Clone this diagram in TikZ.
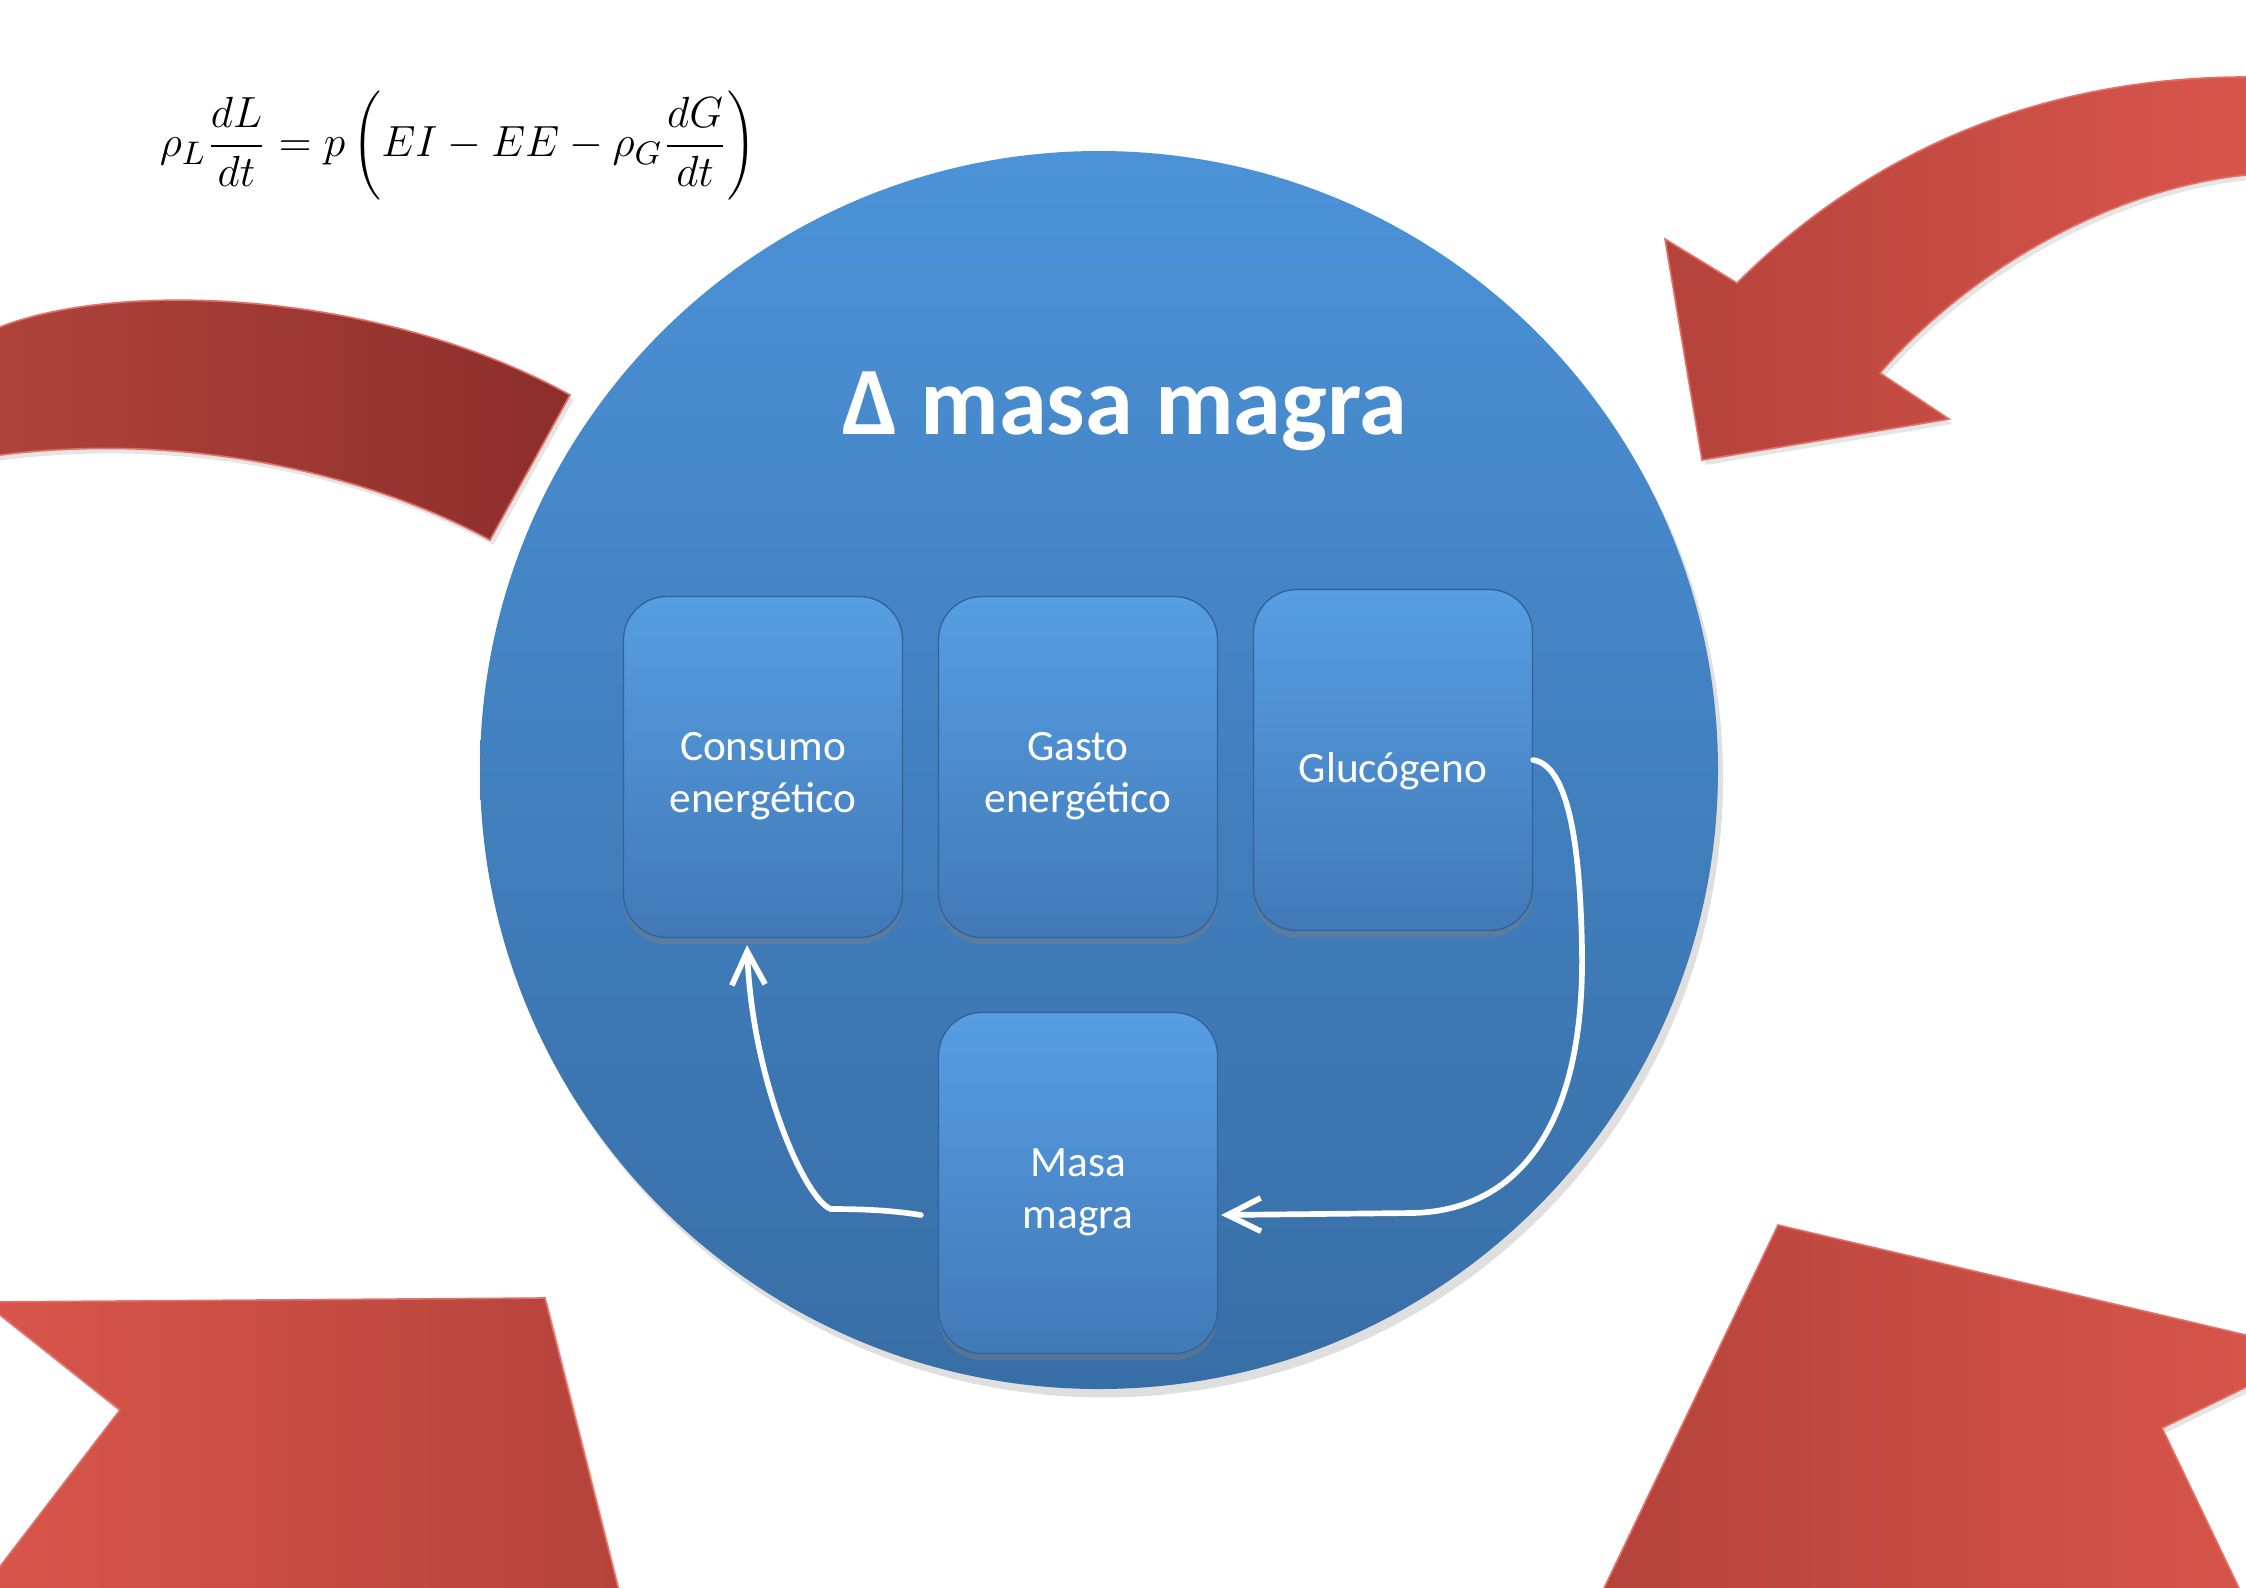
\documentclass[tikz,border=0pt]{standalone}
\usepackage{fontspec}
\setmainfont{Carlito}
\usetikzlibrary{arrows.meta,shadows}

\definecolor{discblue1}{RGB}{75,146,215}
\definecolor{discblue2}{RGB}{56,110,166}
\definecolor{boxtop}{RGB}{86,158,226}
\definecolor{boxbot}{RGB}{66,121,183}
\definecolor{boxedge}{RGB}{52,98,152}
\definecolor{redlight}{RGB}{218,86,76}
\definecolor{reddark}{RGB}{180,67,59}
\definecolor{bandlight}{RGB}{176,68,60}
\definecolor{banddark}{RGB}{141,46,42}
\definecolor{rededge}{RGB}{226,112,102}

\tikzset{
  disc/.style={top color=discblue1, bottom color=discblue2, draw=none,
    drop shadow={shadow xshift=1.5pt, shadow yshift=-2.5pt, opacity=0.25}},
  box/.style={draw=boxedge, line width=0.4pt, rounded corners=13pt,
    minimum width=83.7pt, minimum height=102.3pt, text height=29.5pt,
    top color=boxtop, bottom color=boxbot, text=white, align=center,
    font=\fontsize{13}{15.5}\selectfont,
    drop shadow={shadow xshift=0pt, shadow yshift=-2pt, opacity=0.4}},
  flow/.style={draw=white, line width=1.7pt, line cap=round,
    -{Straight Barb[length=10pt,width=10pt,line width=1.7pt]}},
  redshape/.style={draw=rededge, line width=0.5pt,
    drop shadow={shadow xshift=1pt, shadow yshift=-1.5pt, opacity=0.2}}
}

\begin{document}
\begin{tikzpicture}[x=0.3pt,y=0.3pt,yscale=-1,xscale=1]
\useasboundingbox (0,0) rectangle (2246,1587);
\fill [white] (0,0) rectangle (2246,1587);
\clip (0,0) rectangle (2246,1587);

%Shape: Arc band [id:dp3318204571]
\draw [redshape, left color=bandlight, right color=banddark] (-20,333) -- (0,327) .. controls (120,280) and (380,290) .. (570,395) -- (490,540) .. controls (380,480) and (200,430) .. (0,455) -- (-20,457) -- cycle ;
%Shape: Curved arrow [id:dp7726015483]
\draw [redshape, left color=reddark, right color=redlight] (2270,77) -- (2246,77) .. controls (2030,77) and (1860,160) .. (1737,283) -- (1665,239) -- (1702,460) -- (1949,419) -- (1880,373) .. controls (1960,280) and (2100,190) .. (2246,175) -- (2270,174) -- cycle ;
%Shape: Chevron [id:dp1930457726]
\draw [redshape, left color=redlight, right color=reddark] (-16,1302) -- (545,1298) -- (623,1607) -- (-31,1607) -- (120,1410) -- cycle ;
%Shape: Chevron [id:dp5504218836]
\draw [redshape, left color=reddark, right color=redlight] (1778,1225) -- (2318,1352) -- (2162,1428) -- (2248,1607) -- (1595,1607) -- cycle ;

%Shape: Circle [id:dp8842167310]
\draw [disc] (1099,770) circle (619) ;

% Text Node
\draw (458,146) node [scale=1.09, font=\fontsize{13}{16}\selectfont] (formula) {$\displaystyle \rho_L\frac{dL}{dt}=p\left(EI-EE-\rho_G\frac{dG}{dt}\right)$};
% Text Node
\draw (1125,434) node [anchor=base, text=white, font=\fontsize{29}{34}\selectfont\bfseries] (titulo) {Δ masa magra};

% Text Node
\draw (763,767) node [box] (consumo) {Consumo\\energético};
% Text Node
\draw (1078,767) node [box] (gasto) {Gasto\\energético};
% Text Node
\draw (1393,760) node [box, text height=15.5pt] (gluc) {Glucógeno};
% Text Node
\draw (1078,1183) node [box] (masa) {Masa\\magra};

%Curve Lines [id:da4410982275]
\draw [flow] (gluc.east) .. controls (1565,765) and (1580,830) .. (1582,950) .. controls (1585,1150) and (1500,1212) .. (1411,1213) -- ([shift={(3,32)}]masa.east) ;
%Curve Lines [id:da9073316628]
\draw [flow] ([shift={(-17,32)}]masa.west) .. controls (890,1210) and (860,1209) .. (831,1209) .. controls (805,1200) and (752,1080) .. ([shift={(-16,7)}]consumo.south) ;

\end{tikzpicture}
\end{document}
